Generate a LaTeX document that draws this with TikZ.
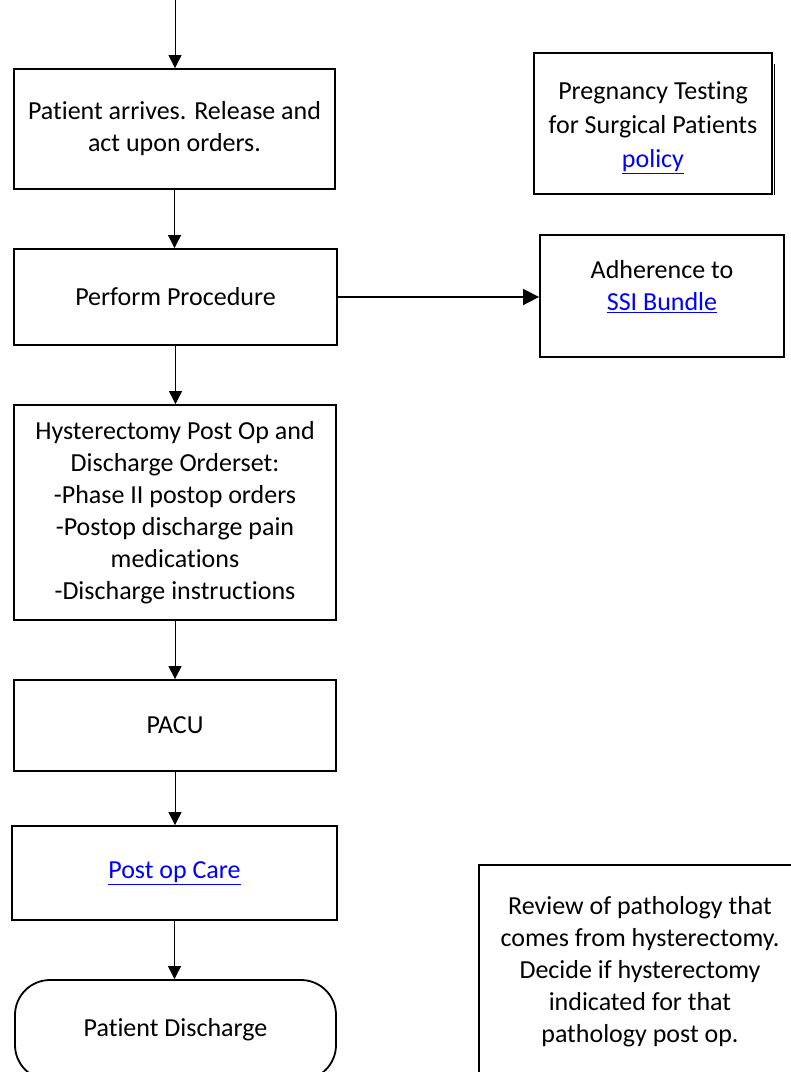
\documentclass[tikz,border=0pt]{standalone}
\usepackage{fontspec}
\setmainfont{Carlito}[Ligatures=NoCommon]
\usetikzlibrary{arrows.meta}
\definecolor{linkblue}{RGB}{0,0,255}
\newcommand\lnk[1]{\textcolor{linkblue}{\underline{#1}}}
\tikzset{
  box/.style={draw, line width=1.8pt, inner sep=0pt, align=center, font=\fontsize{26}{32}\selectfont},
  txt/.style={inner sep=0pt, align=center, font=\fontsize{26}{32}\selectfont},
  arr/.style={-{Triangle[length=13pt,width=13pt]}, line width=0.9pt},
  harr/.style={-{Triangle[length=16pt,width=16pt]}, line width=1.6pt}
}
\begin{document}
\begin{tikzpicture}[x=1pt,y=-1pt]
\useasboundingbox (0,0) rectangle (791,1072);
\clip (0,0) rectangle (791,1072);
\fill[white] (0,0) rectangle (791,1072);

\coordinate (start) at (175,0);
\node[box, minimum width=321pt, minimum height=120pt] (b1) at (174.5,129) {Patient arrives. Release and\\act upon orders.};
\node[box, minimum width=323pt, minimum height=96pt] (b2) at (175.5,297) {Perform Procedure};
\node[box, minimum width=322pt, minimum height=215pt] (b3) at (175,512.5) {Hysterectomy Post Op and\\Discharge Orderset:\\-Phase II postop orders\\-Postop discharge pain\\medications\\-Discharge instructions};
\node[box, minimum width=322pt, minimum height=91pt] (b4) at (175,725.5) {PACU};
\node[box, minimum width=325pt, minimum height=94pt] (b5) at (174.5,873) {\lnk{Post op Care}};
\node[box, rounded corners=35pt, minimum width=321pt, minimum height=100pt] (b6) at (175.5,1030) {Patient Discharge};

\node[box, minimum width=238pt, minimum height=141pt] (preg) at (653,123.5) {};
\node[txt, font=\fontsize{26}{34}\selectfont] (pregtext) at (653,128) {Pregnancy Testing\\for Surgical Patients\\\lnk{policy}};
\draw[line width=1.2pt] ([xshift=1.6pt,yshift=-12pt]preg.north east) -- ([xshift=1.6pt]preg.south east);

\node[box, minimum width=244pt, minimum height=122pt] (ssi) at (662,296) {};
\node[txt] (ssitext) at (662,287) {Adherence to\\\lnk{SSI Bundle}};

\node[box, minimum width=322pt, minimum height=214pt] (rev) at (640,972) {Review of pathology that\\comes from hysterectomy.\\Decide if hysterectomy\\indicated for that\\pathology post op.};

\draw[arr] (start) -- (b1.north -| start);
\draw[arr] (b1.south) -- (b2.north -| b1.south);
\draw[arr] (b2.south) -- (b3.north -| b2.south);
\draw[arr] (b3.south) -- (b4.north -| b3.south);
\draw[arr] (b4.south) -- (b5.north -| b4.south);
\draw[arr] (b5.south) -- (b6.north -| b5.south);
\draw[harr] (b2.east) -- (b2.east -| ssi.west);
\end{tikzpicture}
\end{document}
